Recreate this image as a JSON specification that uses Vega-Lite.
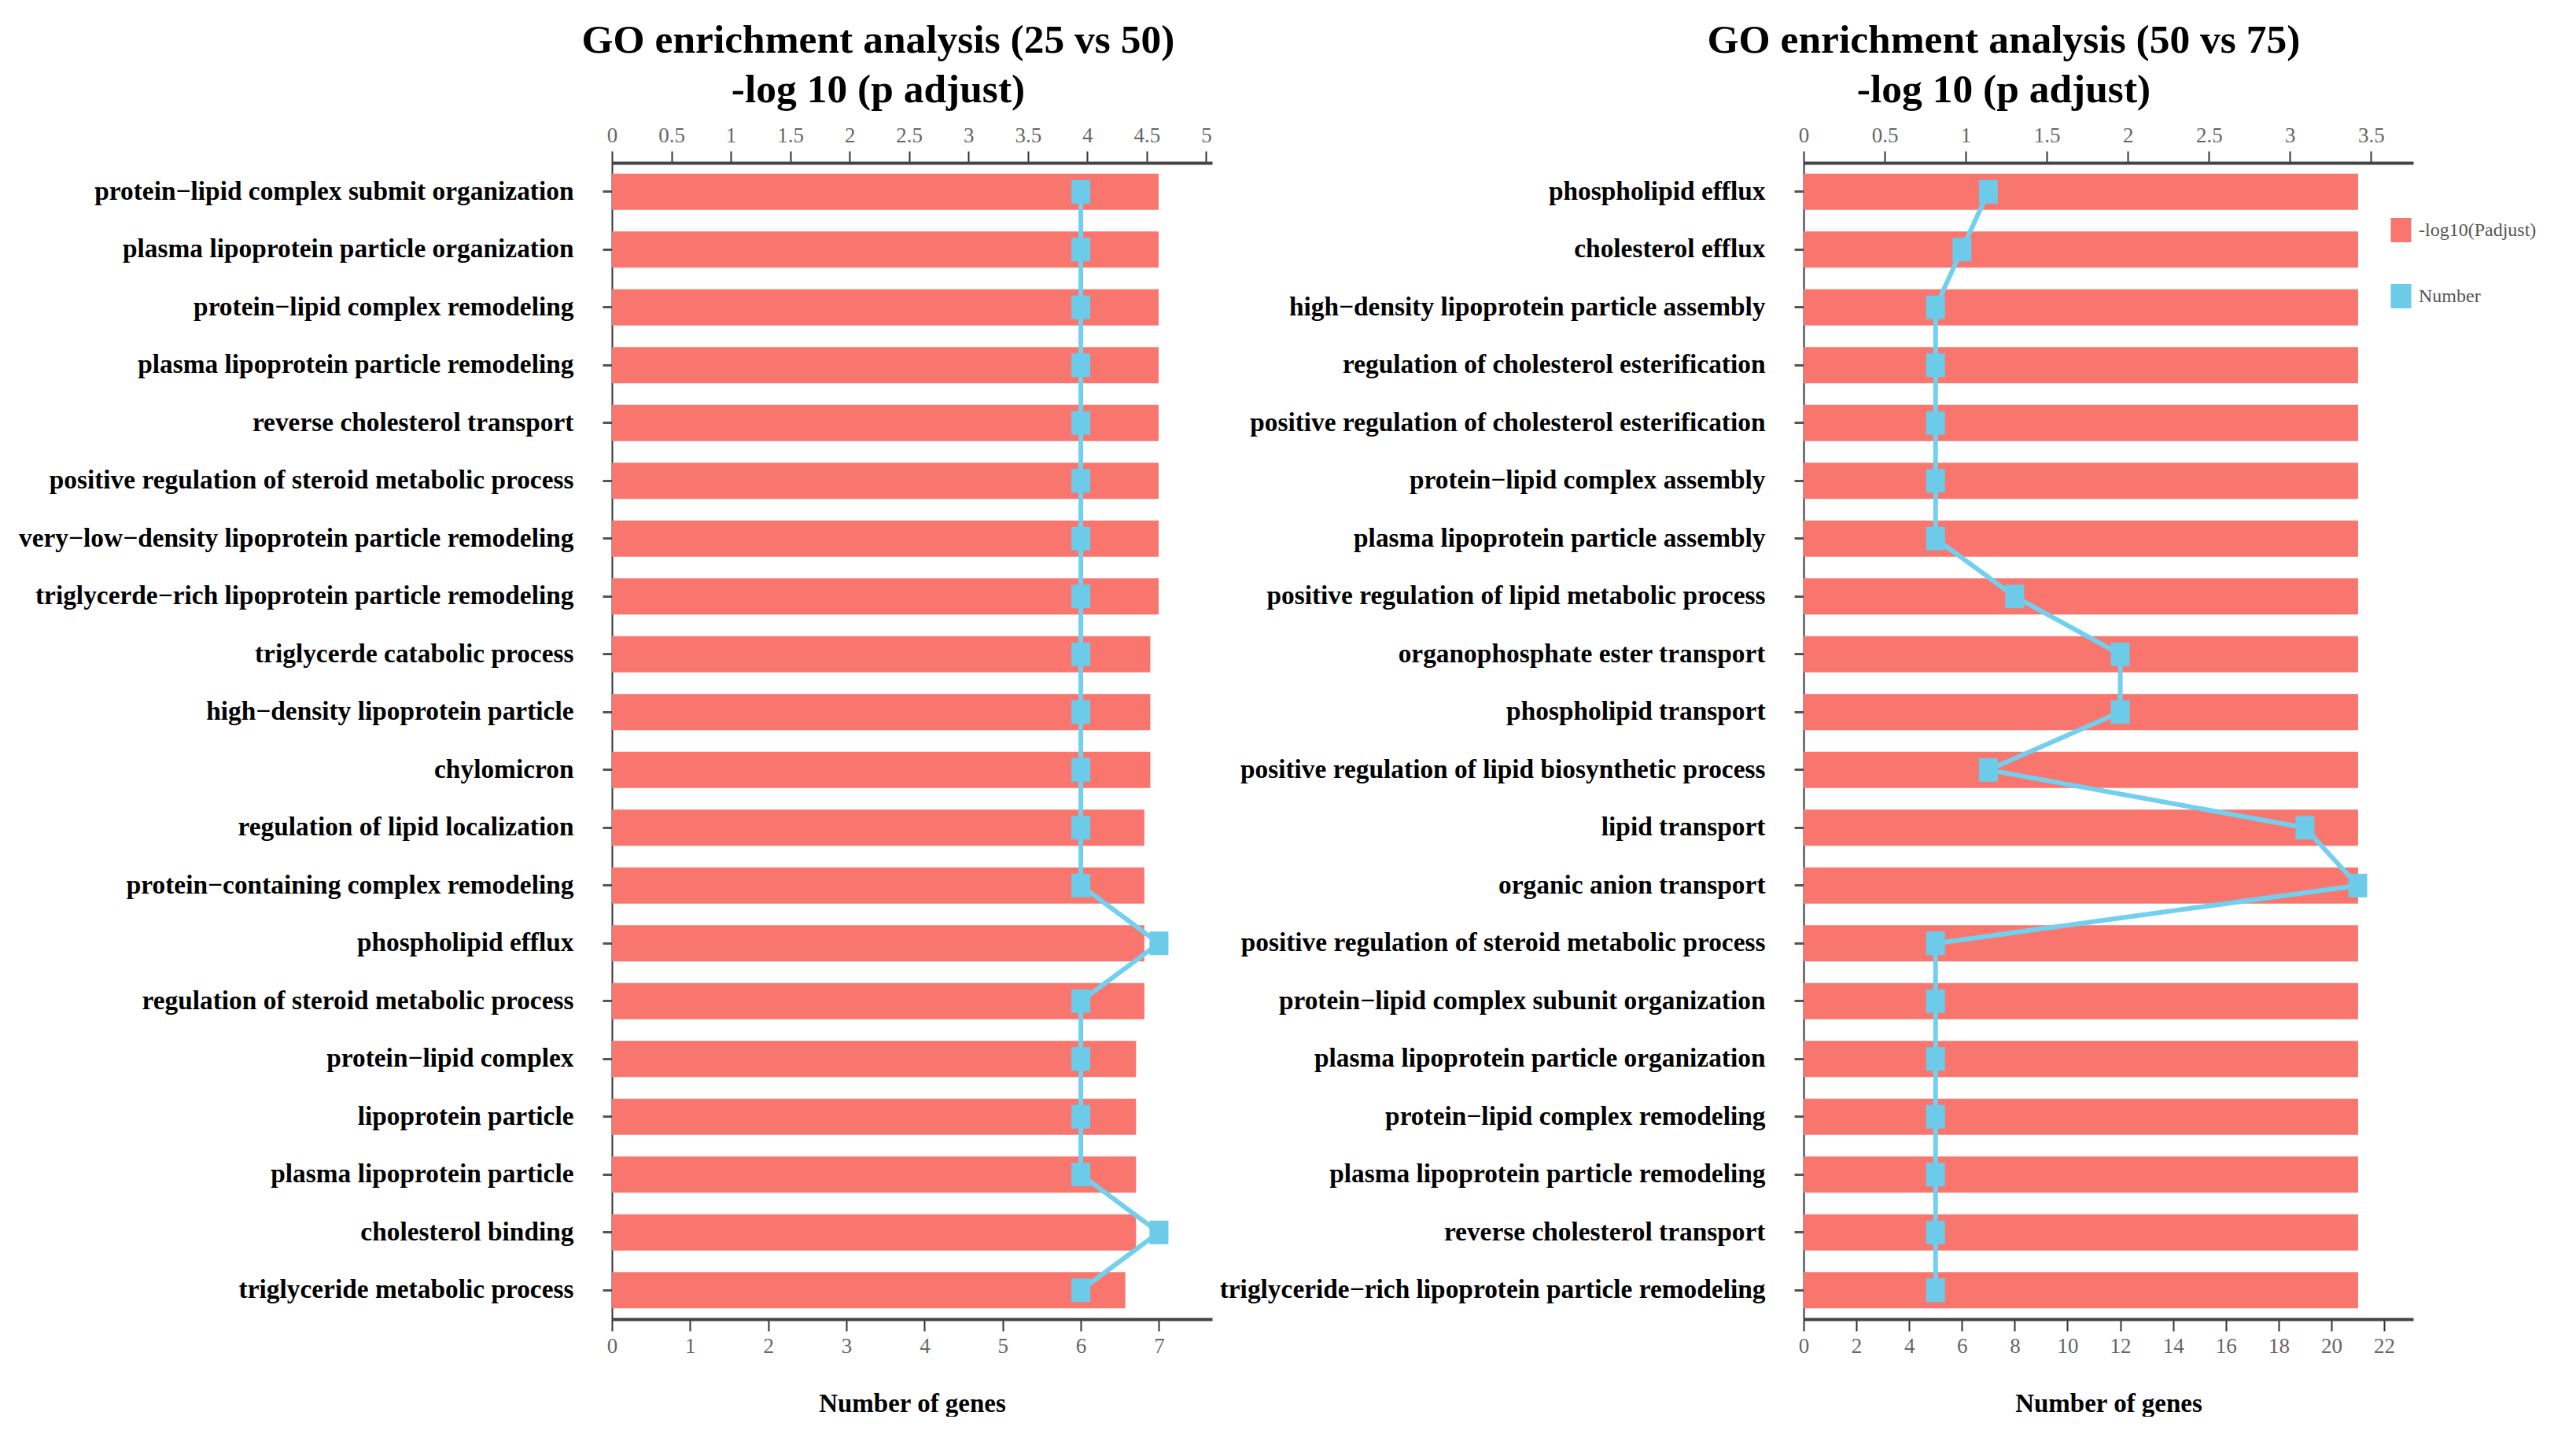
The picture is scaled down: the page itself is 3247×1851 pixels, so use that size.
{
  "$schema": "https://vega.github.io/schema/vega-lite/v6.json",
  "autosize": {"type": "pad"},
  "padding": {"left": 0, "top": 25, "right": 0, "bottom": 0},
  "background": "white",
  "config": {
    "view": {"stroke": null},
    "font": "Liberation Serif",
    "concat": {"spacing": 0}
  },
  "datasets": {
    "a": [
      {"term": "protein−lipid complex submit organization", "padj": 4.6, "genes": 6},
      {"term": "plasma lipoprotein particle organization", "padj": 4.6, "genes": 6},
      {"term": "protein−lipid complex remodeling", "padj": 4.6, "genes": 6},
      {"term": "plasma lipoprotein particle remodeling", "padj": 4.6, "genes": 6},
      {"term": "reverse cholesterol transport", "padj": 4.6, "genes": 6},
      {"term": "positive regulation of steroid metabolic process", "padj": 4.6, "genes": 6},
      {"term": "very−low−density lipoprotein particle remodeling", "padj": 4.6, "genes": 6},
      {"term": "triglycerde−rich lipoprotein particle remodeling", "padj": 4.6, "genes": 6},
      {"term": "triglycerde catabolic process", "padj": 4.53, "genes": 6},
      {"term": "high−density lipoprotein particle", "padj": 4.53, "genes": 6},
      {"term": "chylomicron", "padj": 4.53, "genes": 6},
      {"term": "regulation of lipid localization", "padj": 4.48, "genes": 6},
      {"term": "protein−containing complex remodeling", "padj": 4.48, "genes": 6},
      {"term": "phospholipid efflux", "padj": 4.48, "genes": 7},
      {"term": "regulation of steroid metabolic process", "padj": 4.48, "genes": 6},
      {"term": "protein−lipid complex", "padj": 4.41, "genes": 6},
      {"term": "lipoprotein particle", "padj": 4.41, "genes": 6},
      {"term": "plasma lipoprotein particle", "padj": 4.41, "genes": 6},
      {"term": "cholesterol binding", "padj": 4.41, "genes": 7},
      {"term": "triglyceride metabolic process", "padj": 4.32, "genes": 6}
    ],
    "b": [
      {"term": "phospholipid efflux", "padj": 3.42, "genes": 7},
      {"term": "cholesterol efflux", "padj": 3.42, "genes": 6},
      {"term": "high−density lipoprotein particle assembly", "padj": 3.42, "genes": 5},
      {"term": "regulation of cholesterol esterification", "padj": 3.42, "genes": 5},
      {"term": "positive regulation of cholesterol esterification", "padj": 3.42, "genes": 5},
      {"term": "protein−lipid complex assembly", "padj": 3.42, "genes": 5},
      {"term": "plasma lipoprotein particle assembly", "padj": 3.42, "genes": 5},
      {"term": "positive regulation of lipid metabolic process", "padj": 3.42, "genes": 8},
      {"term": "organophosphate ester transport", "padj": 3.42, "genes": 12},
      {"term": "phospholipid transport", "padj": 3.42, "genes": 12},
      {"term": "positive regulation of lipid biosynthetic process", "padj": 3.42, "genes": 7},
      {"term": "lipid transport", "padj": 3.42, "genes": 19},
      {"term": "organic anion transport", "padj": 3.42, "genes": 21},
      {"term": "positive regulation of steroid metabolic process", "padj": 3.42, "genes": 5},
      {"term": "protein−lipid complex subunit organization", "padj": 3.42, "genes": 5},
      {"term": "plasma lipoprotein particle organization", "padj": 3.42, "genes": 5},
      {"term": "protein−lipid complex remodeling", "padj": 3.42, "genes": 5},
      {"term": "plasma lipoprotein particle remodeling", "padj": 3.42, "genes": 5},
      {"term": "reverse cholesterol transport", "padj": 3.42, "genes": 5},
      {"term": "triglyceride−rich lipoprotein particle remodeling", "padj": 3.42, "genes": 5}
    ]
  },
  "resolve": {"scale": {"color": "independent"}, "legend": {"color": "independent"}},
  "hconcat": [
    {
      "width": 763,
      "height": 1470,
      "data": {"name": "a"},
      "title": {
        "text": ["GO enrichment analysis (25 vs 50)", "-log 10 (p adjust)"],
        "fontSize": 51.5, "font": "Liberation Serif", "fontWeight": "bold",
        "lineHeight": 63, "anchor": "middle", "frame": "group", "dx": -43,
        "offset": 18, "color": "black"
      },
      "encoding": {
        "y": {
          "field": "term", "type": "nominal", "sort": null, "title": null,
          "scale": {"paddingInner": 0.374, "paddingOuter": 0.187},
          "axis": {
            "labelFont": "Liberation Serif", "labelFontSize": 33.4, "labelFontWeight": "bold",
            "labelColor": "black", "labelLimit": 1200, "labelPadding": 37,
            "tickSize": 12, "tickWidth": 3, "tickColor": "#555",
            "domainColor": "#333", "domainWidth": 2,
            "minExtent": 778, "maxExtent": 778
          }
        }
      },
      "layer": [
        {
          "mark": {"type": "bar", "color": "#F8766D", "orient": "horizontal"},
          "encoding": {
            "x": {
              "field": "padj", "type": "quantitative",
              "scale": {"domain": [0, 5.05], "nice": false, "zero": true},
              "axis": {
                "orient": "top", "title": null, "grid": false, "format": "~g",
                "values": [0, 0.5, 1, 1.5, 2, 2.5, 3, 3.5, 4, 4.5, 5],
                "labelFont": "Liberation Serif", "labelFontSize": 27, "labelColor": "#666",
                "labelPadding": 6, "tickSize": 15, "tickWidth": 2, "tickColor": "#333",
                "domainColor": "#444", "domainWidth": 4, "labelFlush": false
              }
            }
          }
        },
        {
          "mark": {"type": "line", "color": "#72D0EE", "strokeWidth": 6},
          "encoding": {
            "x": {
              "field": "genes", "type": "quantitative",
              "scale": {"domain": [0, 7.68], "nice": false, "zero": true},
              "axis": {
                "orient": "bottom", "title": "Number of genes", "grid": false, "format": "~g",
                "values": [0, 1, 2, 3, 4, 5, 6, 7],
                "labelFont": "Liberation Serif", "labelFontSize": 27, "labelColor": "#666",
                "labelPadding": 6, "tickSize": 15, "tickWidth": 2, "tickColor": "#333",
                "domainColor": "#444", "domainWidth": 4, "labelFlush": false,
                "titleFont": "Liberation Serif", "titleFontSize": 33, "titleFontWeight": "bold",
                "titleColor": "black", "titlePadding": 44
              }
            }
          }
        },
        {
          "mark": {"type": "point", "filled": true, "opacity": 1, "color": "#6CCBE8",
                   "shape": "M-0.8,-1L0.8,-1L0.8,1L-0.8,1Z", "size": 900},
          "encoding": {
            "x": {"field": "genes", "type": "quantitative", "scale": {"domain": [0, 7.68], "nice": false}, "axis": null}
          }
        }
      ],
      "resolve": {"scale": {"x": "independent"}, "axis": {"x": "independent"}}
    },
    {
      "width": 775,
      "height": 1470,
      "data": {"name": "b"},
      "title": {
        "text": ["GO enrichment analysis (50 vs 75)", "-log 10 (p adjust)"],
        "fontSize": 51.5, "font": "Liberation Serif", "fontWeight": "bold",
        "lineHeight": 63, "anchor": "middle", "frame": "group", "dx": -133,
        "offset": 18, "color": "black"
      },
      "encoding": {
        "y": {
          "field": "term", "type": "nominal", "sort": null, "title": null,
          "scale": {"paddingInner": 0.374, "paddingOuter": 0.187},
          "axis": {
            "labelFont": "Liberation Serif", "labelFontSize": 33.4, "labelFontWeight": "bold",
            "labelColor": "black", "labelLimit": 1200, "labelPadding": 37,
            "tickSize": 12, "tickWidth": 3, "tickColor": "#555",
            "domainColor": "#333", "domainWidth": 2,
            "minExtent": 752, "maxExtent": 752
          }
        }
      },
      "layer": [
        {
          "mark": {"type": "bar", "orient": "horizontal", "opacity": 1},
          "encoding": {
            "x": {
              "field": "padj", "type": "quantitative",
              "scale": {"domain": [0, 3.76], "nice": false, "zero": true},
              "axis": {
                "orient": "top", "title": null, "grid": false, "format": "~g",
                "values": [0, 0.5, 1, 1.5, 2, 2.5, 3, 3.5],
                "labelFont": "Liberation Serif", "labelFontSize": 27, "labelColor": "#666",
                "labelPadding": 6, "tickSize": 15, "tickWidth": 2, "tickColor": "#333",
                "domainColor": "#444", "domainWidth": 4, "labelFlush": false
              }
            },
            "color": {
              "datum": "-log10(Padjust)",
              "scale": {"domain": ["-log10(Padjust)", "Number"], "range": ["#F8766D", "#6CCBE8"]},
              "legend": {
                "orient": "none", "legendX": 744, "legendY": 70, "title": null,
                "symbolType": "M-0.84,-1L0.84,-1L0.84,1L-0.84,1Z", "symbolSize": 961,
                "symbolStrokeWidth": 0,
                "labelFont": "Liberation Serif", "labelFontSize": 24, "labelColor": "#555",
                "rowPadding": 53, "labelOffset": 7
              }
            }
          }
        },
        {
          "mark": {"type": "line", "color": "#72D0EE", "strokeWidth": 6},
          "encoding": {
            "x": {
              "field": "genes", "type": "quantitative",
              "scale": {"domain": [0, 23.1], "nice": false, "zero": true},
              "axis": {
                "orient": "bottom", "title": "Number of genes", "grid": false, "format": "~g",
                "values": [0, 2, 4, 6, 8, 10, 12, 14, 16, 18, 20, 22],
                "labelFont": "Liberation Serif", "labelFontSize": 27, "labelColor": "#666",
                "labelPadding": 6, "tickSize": 15, "tickWidth": 2, "tickColor": "#333",
                "domainColor": "#444", "domainWidth": 4, "labelFlush": false,
                "titleFont": "Liberation Serif", "titleFontSize": 33, "titleFontWeight": "bold",
                "titleColor": "black", "titlePadding": 44
              }
            }
          }
        },
        {
          "mark": {"type": "point", "filled": true, "opacity": 1,
                   "shape": "M-0.8,-1L0.8,-1L0.8,1L-0.8,1Z", "size": 900},
          "encoding": {
            "x": {"field": "genes", "type": "quantitative", "scale": {"domain": [0, 23.1], "nice": false}, "axis": null},
            "color": {"datum": "Number"}
          }
        }
      ],
      "resolve": {"scale": {"x": "independent"}, "axis": {"x": "independent"}}
    }
  ]
}
